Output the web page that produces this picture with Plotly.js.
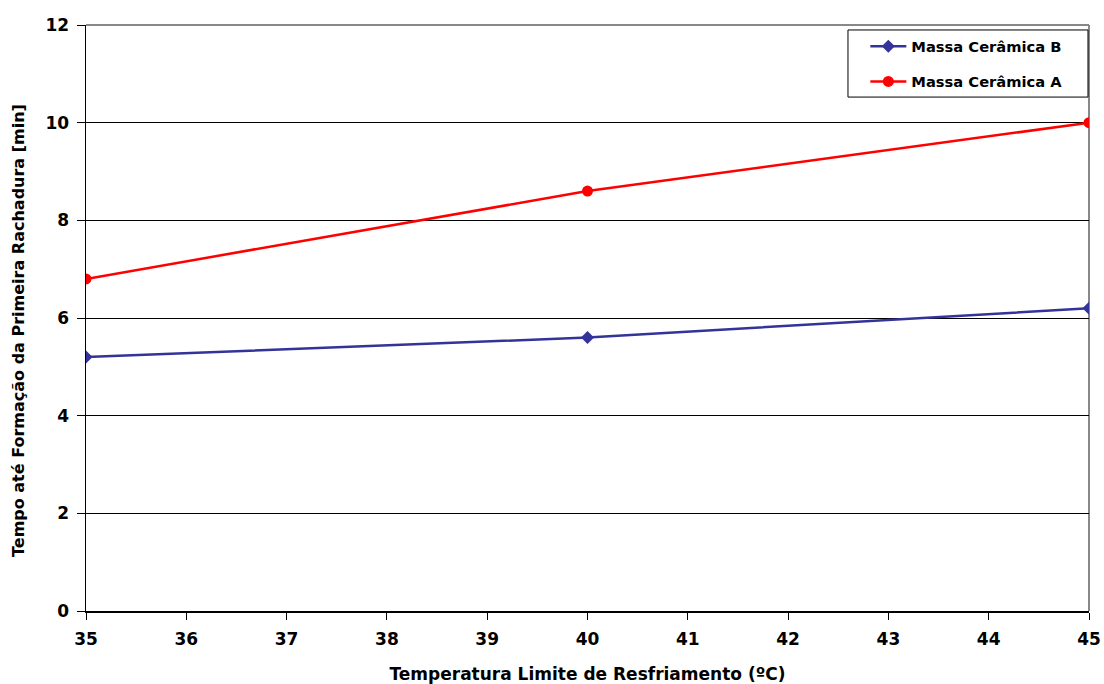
<!DOCTYPE html>
<html>
<head>
<meta charset="utf-8">
<script src="https://cdn.plot.ly/plotly-3.0.1.min.js"></script>
<style>html,body{margin:0;padding:0;background:#fff;}#chart{width:1104px;height:684px;}</style>
</head>
<body>
<div id="chart"></div>
<script>
const temperatures = [35, 40, 45];
const massaB = [5.2, 5.6, 6.2];
const massaA = [6.8, 8.6, 10.0];
const seriesNames = ['Massa Cerâmica B', 'Massa Cerâmica A'];
const xTicks = [35, 36, 37, 38, 39, 40, 41, 42, 43, 44, 45];
const yTicks = [0, 2, 4, 6, 8, 10, 12];
const xTitle = 'Temperatura Limite de Resfriamento (ºC)';
const yTitle = 'Tempo até Formação da Primeira Rachadura [min]';

const fontFam = '"DejaVu Sans", "Liberation Sans", Arial, sans-serif';

const traces = [
  {x: temperatures, y: massaB, name: seriesNames[0], legendgroup: 'b', type: 'scatter', mode: 'lines+markers',
   line: {color: '#333399', width: 2.5}, marker: {symbol: 'diamond', size: 10, color: '#333399'}},
  {x: temperatures, y: massaA, name: seriesNames[1], legendgroup: 'a', type: 'scatter', mode: 'lines+markers',
   line: {color: '#ff0000', width: 2.5}, marker: {symbol: 'circle', size: 11, color: '#ff0000'}}
];

const layout = {
  width: 1104, height: 684,
  margin: {l: 86, r: 15, t: 25, b: 73},
  paper_bgcolor: '#ffffff', plot_bgcolor: '#ffffff',
  font: {family: fontFam, color: '#000', size: 15, weight: 'bold'},
  showlegend: true,
  legend: {x: 0.777, y: 0.991, xanchor: 'left', yanchor: 'top', bgcolor: 'rgba(0,0,0,0)',
           borderwidth: 0, font: {size: 14.7, weight: 'bold', family: fontFam},
           tracegroupgap: 13, itemwidth: 36},
  xaxis: {range: [35, 45], tickvals: xTicks, ticktext: xTicks.map(String), showgrid: false, zeroline: false,
          showline: true, linecolor: '#000', linewidth: 1.5, ticks: 'outside', ticklen: 7, tickcolor: '#000',
          ticklabelstandoff: 5,
          tickfont: {size: 17, weight: 'bold', family: fontFam},
          title: {text: xTitle, font: {size: 17, weight: 'bold', family: fontFam}, standoff: 24}},
  yaxis: {range: [0, 12], tickvals: yTicks, ticktext: yTicks.map(String), showgrid: true, gridcolor: '#000', gridwidth: 1,
          zeroline: false, showline: true, linecolor: '#000', linewidth: 1.5, ticks: 'outside', ticklen: 8, tickcolor: '#000',
          ticklabelstandoff: 4,
          tickfont: {size: 17, weight: 'bold', family: fontFam}},
  annotations: [
    {text: yTitle, xref: 'paper', yref: 'paper', x: -0.0678, y: 0.4795, xanchor: 'center', yanchor: 'middle',
     textangle: -90, showarrow: false, font: {size: 16, weight: 'bold', family: fontFam}}
  ],
  shapes: [
    {type: 'line', xref: 'paper', yref: 'paper', x0: 0, x1: 1, y0: 1, y1: 1, line: {color: '#888', width: 2}, layer: 'below'},
    {type: 'line', xref: 'paper', yref: 'paper', x0: 1, x1: 1, y0: 0, y1: 1, line: {color: '#888', width: 2}, layer: 'below'},
    {type: 'rect', xref: 'paper', yref: 'paper', x0: 0.7597, x1: 0.9990, y0: 0.877, y1: 0.9915,
     line: {color: '#000', width: 1}, fillcolor: '#fff', layer: 'above'}
  ]
};

Plotly.newPlot('chart', traces, layout, {displayModeBar: false, staticPlot: true});
</script>
</body>
</html>
